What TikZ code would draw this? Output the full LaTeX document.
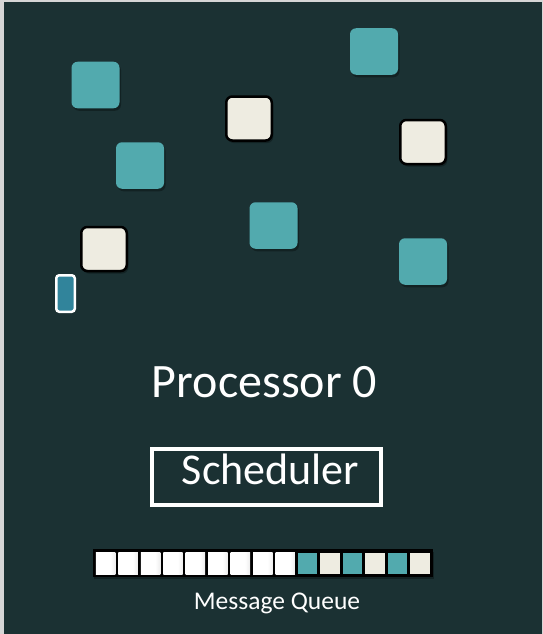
\documentclass[tikz,border=0pt]{standalone}
\usepackage{fontspec}
\setmainfont{Carlito}
\usetikzlibrary{shadows}

\definecolor{bgdark}{HTML}{1B3133}
\definecolor{tealsq}{HTML}{52AAAE}
\definecolor{creamsq}{HTML}{EEECE1}
\definecolor{bluetk}{HTML}{31849B}
\definecolor{edgegray}{HTML}{D6D6D6}
\definecolor{cellshade}{HTML}{DCDCDC}

% empty queue slot: white, greying only near its right edge
\pgfdeclarehorizontalshading{slotshade}{100bp}{
  color(0bp)=(white); color(62bp)=(white); color(88bp)=(cellshade); color(100bp)=(cellshade)}

\tikzset{
  softshadow/.style={drop shadow={fill=black, opacity=0.3, shadow xshift=1.5pt, shadow yshift=-2.5pt}},
  tealbox/.style={rectangle, rounded corners=6pt, fill=tealsq, inner sep=0pt,
    minimum width=48pt, minimum height=46.5pt, softshadow},
  creambox/.style={rectangle, rounded corners=6pt, fill=creamsq, draw=black,
    line width=2.5pt, inner sep=0pt, minimum width=45.5pt, minimum height=44pt, softshadow},
  tokenbox/.style={rectangle, rounded corners=3pt, fill=bluetk, draw=white,
    line width=2.5pt, inner sep=0pt, minimum width=18.5pt, minimum height=36.5pt},
  schedframe/.style={rectangle, draw=white, line width=4pt, inner sep=0pt,
    minimum width=229.5pt, minimum height=56.5pt},
  bigtext/.style={text=white, inner sep=0pt, anchor=base},
  qcell/.style={rectangle, inner sep=0pt, minimum width=19.45pt, minimum height=21.5pt, anchor=north west},
  emptycell/.style={qcell, shading=slotshade},
  tealcell/.style={qcell, fill=tealsq},
  creamcell/.style={qcell, fill=creamsq},
}

\begin{document}
\begin{tikzpicture}[x=1pt, y=-1pt]
  \useasboundingbox (0,0) rectangle (543,634);
  % page edge and dark panel
  \fill[edgegray] (0,0) rectangle (543,634);
  \fill[bgdark] (4,2) rectangle (542,634);

  % objects on the processor
  \node[tealbox]  (objA) at (95.5,85)   {};
  \node[tealbox]  (objB) at (374,51.5)  {};
  \node[creambox] (objC) at (249,118.5) {};
  \node[creambox] (objD) at (423,142)   {};
  \node[tealbox]  (objE) at (140,165.5) {};
  \node[tealbox]  (objF) at (273.5,225.5) {};
  \node[creambox] (objG) at (104,249)   {};
  \node[tealbox]  (objH) at (423,261.5) {};
  \node[tokenbox] (token) at (65.5,293.5) {};

  % processor title
  \node[bigtext, font=\fontsize{48}{50}\selectfont] (proc) at (264.5,397) {Processor 0};

  % scheduler
  \node[schedframe] (sched) at (266.25,476.75) {};
  \node[bigtext, font=\fontsize{44}{48}\selectfont] (schedlabel) at (270.5,484) {Scheduler};

  % message queue
  \node[rectangle, fill=black, inner sep=0pt, minimum width=339.8pt, minimum height=27.5pt,
        anchor=north west, softshadow] (queue) at (92.7,549) {};
  \foreach \i/\kind in {0/emptycell,1/emptycell,2/emptycell,3/emptycell,4/emptycell,
                        5/emptycell,6/emptycell,7/emptycell,8/emptycell,9/tealcell,
                        10/creamcell,11/tealcell,12/creamcell,13/tealcell,14/creamcell}{
    \node[\kind] (q\i) at ({95.7+\i*22.45},552.5) {};
  }
  \node[bigtext, font=\fontsize{25.5}{28}\selectfont] (qlabel) at (277,609) {Message Queue};
\end{tikzpicture}
\end{document}
